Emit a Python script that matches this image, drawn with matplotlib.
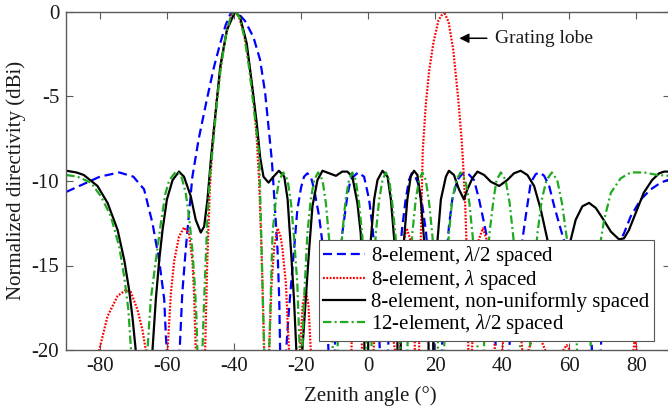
import matplotlib
matplotlib.use("Agg")
import matplotlib.pyplot as plt

plt.rcParams['font.family'] = ['Liberation Serif', 'DejaVu Serif']
plt.rcParams['mathtext.fontset'] = 'custom'
plt.rcParams['mathtext.rm'] = 'Liberation Serif'
plt.rcParams['mathtext.it'] = 'Liberation Serif:italic'
plt.rcParams['lines.scale_dashes'] = False

# ---------------- data ----------------
labels = [r'8-element, $\lambda$/2 spaced',
          r'8-element, $\lambda$ spaced',
          '8-element, non-uniformly spaced',
          r'12-element, $\lambda$/2 spaced']

blue_theta = [-90, -85, -80, -74.2, -70, -66.8, -64.3, -62.3, -60.8, -60.3, -58.3,
              -56.1, -55.4, -54.4, -53.4, -52.4, -50.5, -48.1, -46, -44.1, -42.5,
              -41.1, -39.7, -38.5, -36.7, -34.2, -32.2, -30.7, -29.7, -28.7, -28.2,
              -27.6, -27.0, -26.5, -25.8, -24.6, -23.6, -22.1, -21.1, -20, -19.1,
              -18.1, -17, -16.1, -14.6, -13.6, -12.5, -11, -9.3, -7.7, -6.2, -5.2,
              -3, -1.2, 0.3, 1.3, 2.5, 4.6, 7, 8.9, 10.2, 11.2, 12.2, 13.0, 14,
              15.2, 16.2, 17.2, 18.6, 20.9, 23, 24.1, 25.1, 26.6, 28, 29.5, 31.6,
              33.1, 34.6, 35.6, 37, 39.5, 43.5, 44.8, 46.0, 47.0, 48.5, 50, 51.2,
              52.5, 54.0, 55.5, 57.5, 58.4, 61, 64, 66.5, 68, 69.5, 70.5, 73, 75.3,
              76.3, 78.3, 81.3, 84.3, 87.3, 90]
blue_db = [-10.65, -10.2, -9.75, -9.5, -9.75, -10.5, -12.5, -14.7, -17.0, -19.2, -25,
           -19.6, -16.6, -14.1, -11.9, -9.75, -7.5, -5.2, -3.3, -1.87, -0.8,
           -0.15, 0, -0.15, -0.55, -1.5, -2.85, -4.8, -6.8, -8.8, -10.3,
           -12.2, -14.1, -17.0, -25, -20.5, -17.6, -14.1, -11.7, -10.4, -9.75,
           -9.55, -9.8, -10.5, -12.1, -13.7, -16, -25, -17, -13.1, -10.9, -9.9,
           -9.5, -9.75, -11.1, -12.7, -15.5, -25, -16, -15.5, -12.7, -11.1, -9.95, -9.55, -9.7,
           -10.3, -11.5, -12.9, -16, -25, -15.5, -12.7, -11.1, -9.95, -9.6, -9.5, -9.95,
           -11.1, -12.5, -13.5, -16, -25, -17, -15, -13.5, -12.1, -10.1, -9.6, -9.5,
           -9.7, -10.3, -11.5, -12.9, -13.5, -15.5, -18.5, -19, -25, -19.5, -17.5, -15, -13.5,
           -13.1, -12.1, -11.1, -10.5, -10.1, -9.9]

red_theta = [-90, -82, -80.2, -77.7, -74.7, -72.3, -70.8, -68.8, -67.3, -66.3, -63,
             -59.8, -58.8, -57.8, -56.4, -54.9, -53.4, -52.4, -51.9, -51.4, -50,
             -48.6, -48, -47.2, -46.3, -45, -43.5, -42, -40.5, -39.7, -38.5, -37,
             -35.5, -34.2, -33.2, -32.5, -31.8, -31, -30.3, -29.5, -28.8, -28.0,
             -27.0, -26.2, -25.6, -24.5, -23.6, -22, -20.3, -19.5, -18.6, -17.8,
             -17.1, -16, -6, -4.9, -3.4, -1.9, -0.5, 1.8, 3, 4.5, 6, 8, 9, 9.8,
             10.6, 11.5, 12.5, 13.7, 14.4, 15.2, 15.7, 16.3, 17.2, 18.2, 19.5, 21,
             22.6, 24, 25.4, 26.9, 27.9, 28.4, 28.9, 29.4, 29.9, 30.4, 31, 31.8,
             32.8, 34.2, 35.6, 36.8, 37.8, 38.8, 40, 41.5, 43, 44.5, 46, 47, 47.8,
             50.2, 52.8, 54, 57, 58.2, 59.2, 60.2, 61, 78, 78.8, 79.6, 80.4, 82, 90]
red_db = [-26, -24, -20, -18.0, -16.8, -16.45, -16.55, -17.6, -18.8, -20, -28,
          -20, -16.6, -14.7, -13.3, -12.75, -13.1, -14.7, -16.6, -20, -28,
          -20, -15, -10.5, -7.5, -5.0, -2.6, -1.0, -0.1, 0, -0.3, -1.3,
          -3.0, -5.0, -7.5, -10, -14, -20, -28, -20, -16.1, -13.9,
          -12.8, -13.2, -13.9, -16.1, -20, -28, -20, -17.3, -16.45, -17.3,
          -20, -28, -28, -19.5, -18.8, -19.5, -28, -19.5, -17.3, -16.4, -17.3, -20, -28, -18,
          -13.6, -12.8, -13.4, -16, -28, -20, -13.5, -8.2, -5.5, -3.5, -1.8, -0.5,
          0, -0.6, -2.26, -5.2, -7.6, -9.2, -11.1, -14, -20, -28, -20, -16,
          -13.6, -12.8, -13.6, -16, -20, -28, -20, -17, -16.4, -17, -20, -28, -20,
          -18.7, -20, -28, -28, -20, -19.7, -20, -28, -28, -20.5, -19.3, -20.5, -28, -28]

black_theta = [-90, -87, -84.8, -80.7, -77.7, -74.7, -72.7, -71.3, -70.3, -69.3, -66.8,
               -64.3, -63.3, -62.3, -61.3, -60, -58.3, -56.4, -54.9, -52.9, -51.4,
               -49.9, -48.9, -47.9, -46.9, -46.1, -44.1, -42.1, -39.7, -38.2, -36.2,
               -34.7, -33.2, -32.2, -31.2, -29.7, -28.2, -26.6, -25, -24, -23, -22.1,
               -21.4, -20.6, -19.6, -18.6, -17.6, -16.6, -15.1, -13.6, -11.6, -9.6,
               -7.7, -6.2, -4.7, -3.2, -2.2, -1.3, -0.5, 0.2, 0.8, 1.8, 2.8, 4.3,
               5.8, 6.8, 7.8, 8.6, 9.2, 9.9, 10.7, 11.7, 12.7, 13.7, 14.7, 15.7,
               16.7, 17.8, 18.7, 19.7, 20.7, 21.7, 23.2, 24.1, 25.6, 27.1, 28.6,
               29.6, 31.1, 32.6, 34.6, 36.6, 39.1, 41.5, 43.5, 45.5, 47.5, 49.5,
               51.5, 53.5, 55, 57, 59, 60.4, 61.9, 63.9, 65.9, 67.9, 69.9, 72.4,
               74.8, 76.3, 77.8, 79.8, 82.2, 84.7, 86.8, 88.3, 90]
black_db = [-9.4, -9.5, -9.65, -10.3, -11.3, -12.9, -14.7, -16.4, -18.0, -20, -28,
            -20, -17.0, -14.7, -12.9, -11.1, -9.95, -9.45, -9.75, -10.9, -12.3,
            -13.05, -12.7, -11.1, -8.76, -7.2, -3.25, -1.08, 0, -0.3, -1.87,
            -4.2, -6.6, -8.6, -9.75, -10.1, -9.75, -9.4, -9.75, -11.1, -14.1, -17.0,
            -20, -28, -20, -17.0, -14.1, -11.5, -9.95, -9.4, -9.55, -9.7,
            -9.45, -9.45, -9.75, -11.3, -13.1, -17, -28, -17, -13.5, -11.1, -9.95, -9.4,
            -9.75, -11.1, -13.5, -17, -28, -17, -13.5, -11.1, -9.75, -9.4, -9.65, -11.1,
            -13.5, -17, -28, -17, -13.5, -11.1, -9.75, -9.4, -9.65, -10.5, -11.1,
            -10.5, -9.85, -9.45, -9.65, -10.05, -10.3, -9.95, -9.55, -9.4, -9.65, -10.3,
            -11.7, -13.5, -15.5, -16.5, -15.3, -13.5, -12.3, -11.5, -11.3, -11.6, -12.2, -13.0,
            -13.45, -13.4, -12.9, -11.9, -10.7, -9.95, -9.55, -9.45, -9.45]

green_theta = [-90, -86.7, -82.7, -79.7, -76.7, -74.2, -72.7, -71.5, -70.7, -68.3,
               -65.8, -64.8, -63.3, -61.8, -60.5, -59.3, -57.3, -55.8, -54.4, -53.4,
               -52.4, -51.7, -51.2, -50.9, -50.2, -49.4, -48.9, -48.4, -47.9, -47.2,
               -46.4, -45.2, -44, -42.5, -41, -39.7, -38.3, -36.8, -35.5, -34.2, -33,
               -32.5, -32, -31.5, -31, -30.4, -29.5, -29.0, -28.5, -27.5, -26.5,
               -25.3, -24.0, -23.0, -22.1, -21.1, -20.4, -19.9, -19.6, -19.1, -18.1,
               -17.1, -16.1, -14.9, -13.6, -12.6, -11.6, -10.8, -9.9, -8.8, -7.7,
               -6.7, -5.7, -4.7, -3.7, -2.7, -1.7, -0.8, 0.2, 1.3, 2.3, 3.3, 4.3,
               5.3, 6.3, 7.2, 8.2, 9.3, 10.7, 12.1, 13.2, 14.2, 15.2, 16.2, 17.2,
               18.2, 19.2, 20.5, 21.8, 23, 24.1, 25.1, 26.3, 27.6, 29.0, 30.2, 31.2,
               32.3, 33.6, 34.9, 36.2, 37.4, 38.3, 39.6, 41, 42.2, 43.3, 44.8, 46.8,
               48.8, 50.5, 51.8, 53.2, 54.8, 56.4, 57.8, 59.2, 60.8, 62.2, 64.3, 66.4,
               68, 69.4, 70.4, 72.4, 75.3, 78.3, 82.3, 86.3, 90]
green_db = [-9.65, -9.75, -10.1, -10.9, -12.1, -13.9, -15.7, -17.6, -20, -28,
            -20, -17.0, -14.7, -12.5, -10.8, -9.95, -9.45, -9.65, -10.7, -12.1,
            -14.1, -16.1, -18.0, -20, -28, -20, -17.0, -14.5, -12.1, -9.75,
            -8.2, -5.6, -3.4, -1.5, -0.3, 0, -0.35, -1.6, -3.3, -5.5, -7.5,
            -8.4, -12.1, -16.1, -20, -28, -20, -16.5, -13.1, -11.1, -9.95,
            -9.5, -9.95, -11.3, -13.3, -16.1, -20, -28, -20, -17.0, -13.1,
            -11.1, -9.95, -9.5, -9.95, -11.3, -13.5, -17, -28, -17, -13.1,
            -11.1, -9.95, -9.5, -9.95, -11.3, -13.3, -17, -28, -17, -13.1, -11.1, -9.95,
            -9.5, -9.95, -11.3, -13.3, -17, -28, -17, -13.1, -11.1, -9.95, -9.5, -9.95,
            -11.3, -13.3, -17, -28, -17, -13.1, -11.1, -9.95, -9.5, -9.95, -11.3, -13.3,
            -17, -28, -17, -13.1, -11.1, -9.95, -9.5, -9.95, -11.3, -13.3, -17, -28,
            -17, -13.1, -11.1, -9.95, -9.5, -9.95, -11.3, -13.3, -17, -19.5, -28, -19.5,
            -16, -13.5, -12.3, -10.7, -9.85, -9.5, -9.5, -9.65, -9.7]

x_ticks = [-80, -60, -40, -20, 0, 20, 40, 60, 80]
y_ticks = [-20, -15, -10, -5, 0]
annot_text = 'Grating lobe'
annot_xy = (27.2, -1.57)
annot_text_xy = (37.9, -1.57)

# ---------------- figure ----------------
W, H = 668, 413
fig = plt.figure(figsize=(W / 100, H / 100), dpi=100)
ax = fig.add_axes([66.3 / W, (H - 350.1) / H, 603.6 / W, 338.4 / H])

lw = 1.6
fs = 15
green = '#1faa1f'
ax.plot(blue_theta, blue_db, color='#0000ff', lw=lw, ls=(0, (6.5, 3.5)), label=labels[0])
ax.plot(red_theta, red_db, color='#ff0000', lw=lw, ls=(0, (1.3, 1.1)), label=labels[1])
ax.plot(black_theta, black_db, color='black', lw=lw, ls='-', label=labels[2])
ax.plot(green_theta, green_db, color=green, lw=lw, ls=(0, (6.0, 2.4, 1.4, 2.4)), label=labels[3])

ax.set_xlim(-90, 90)
ax.set_ylim(-20, 0)
ax.set_xticks(x_ticks)
ax.set_yticks(y_ticks)
ax.set_xticklabels([str(v) for v in x_ticks])
ax.set_yticklabels([str(v) for v in y_ticks])

axcol = '#5a5a5a'
for s in ax.spines.values():
    s.set_color(axcol)
    s.set_linewidth(1.0)
ax.tick_params(direction='in', length=5, width=0.8, color=axcol, labelsize=fs,
               labelcolor='#1a1a1a', top=True, right=True, pad=5)

ax.set_xlabel('Zenith angle (°)', fontsize=fs, color='#1a1a1a')
ax.set_ylabel('Normalized directivity (dBi)', fontsize=fs, color='#1a1a1a')
ax.xaxis.set_label_coords(0.503, -0.105)
ax.yaxis.set_label_coords(-0.066, 0.5)

ax.annotate(annot_text, xy=annot_xy, xytext=annot_text_xy, fontsize=14,
            ha='left', va='center', color='#1a1a1a',
            arrowprops=dict(arrowstyle='-|>', color='black', lw=1.1,
                            mutation_scale=14, shrinkA=4, shrinkB=0))

leg = ax.legend(loc='lower right', bbox_to_anchor=(0.974, 0.027), borderaxespad=0,
                fontsize=fs, frameon=True, fancybox=False, framealpha=1,
                edgecolor='#555555', handlelength=2.0, handletextpad=0.3,
                labelspacing=0.0, borderpad=0.22)
leg.get_frame().set_linewidth(0.8)

fig.savefig('out.png', dpi=100)
